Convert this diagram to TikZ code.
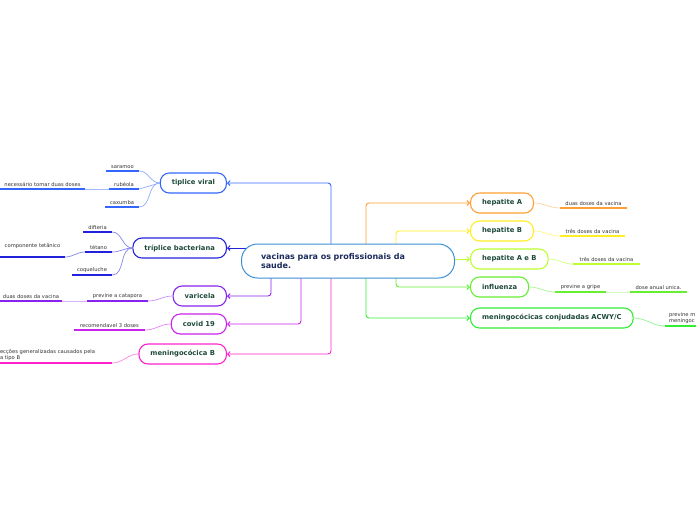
\documentclass[tikz,border=0pt]{standalone}
\usepackage{fontspec}
\setmainfont{DejaVu Sans}
\usepackage{xcolor}
\usepackage{tikz}
\usetikzlibrary{arrows.meta,backgrounds}

\definecolor{mainblue}{HTML}{3B8FD4}
\definecolor{maintext}{HTML}{1B2A5C}
\definecolor{nodetext}{HTML}{1E4A3A}
\definecolor{leaftext}{HTML}{333333}
\definecolor{cviral}{HTML}{3366FF}
\definecolor{cbact}{HTML}{2222DD}
\definecolor{cvar}{HTML}{8822EE}
\definecolor{ccovid}{HTML}{CC22EE}
\definecolor{cmenb}{HTML}{FF22CC}
\definecolor{chepa}{HTML}{FF9F33}
\definecolor{chepb}{HTML}{FFEE22}
\definecolor{chepab}{HTML}{BBFF33}
\definecolor{cflu}{HTML}{66EE33}
\definecolor{cacwy}{HTML}{33EE33}

\begin{document}
\begin{tikzpicture}[
    x=1pt, y=-1pt,
    topic/.style={rectangle, rounded corners=9pt, draw, line width=1.1pt, fill=white, text=nodetext, font=\fontsize{6.8}{8}\selectfont\bfseries, minimum height=20pt, inner xsep=11.5pt},
    leaf/.style={anchor=south, inner xsep=0pt, inner ysep=2pt, text=leaftext, font=\fontsize{5.2}{6.2}\selectfont},
    uline/.style={line width=1.6pt},
    twig/.style={line width=0.7pt},
    arrow/.style={-{Straight Barb[length=2.5pt,width=5pt]}, line width=0.9pt, rounded corners=3pt}
]
\useasboundingbox (0,0) rectangle (696,520);

% central topic
\node[rectangle, rounded corners=16pt, draw=mainblue, line width=1pt, fill=white, minimum width=213pt, minimum height=34pt, text width=174pt, align=left, font=\fontsize{8}{9.5}\selectfont\bfseries, text=maintext] (main) at (348,261) {vacinas para os profissionais da\\saude.};

% left topics
\node[topic, draw=cviral, anchor=east] (viral) at (227,183) {tiplice viral};
\node[topic, draw=cbact, anchor=east] (bact) at (227,248) {tríplice bacteriana};
\node[topic, draw=cvar, anchor=east] (var) at (227,296) {varicela};
\node[topic, draw=ccovid, anchor=east] (covid) at (227,324) {covid 19};
\node[topic, draw=cmenb, anchor=east] (menb) at (227,354) {meningocócica B};

% right topics
\node[topic, draw=chepa, anchor=west] (hepa) at (470,203) {hepatite A};
\node[topic, draw=chepb, anchor=west] (hepb) at (470,231) {hepatite B};
\node[topic, draw=chepab, anchor=west] (hepab) at (470,259) {hepatite A e B};
\node[topic, draw=cflu, anchor=west] (flu) at (470,287) {influenza};
\node[topic, draw=cacwy, anchor=west] (acwy) at (470,318) {meningocócicas conjudadas ACWY/C};

% leaves
\node[leaf, minimum width=33pt] (sar) at (122.5,171) {saramoo};
\node[leaf, minimum width=30pt] (rub) at (124,189) {rubéola};
\node[leaf, minimum width=34pt] (cax) at (122,207) {caxumba};
\node[leaf, minimum width=85pt] (nec) at (42.5,189) {necessário tomar duas doses};
\node[leaf, minimum width=29pt] (dif) at (97.5,232) {difteria};
\node[leaf, minimum width=27pt] (tet) at (98.5,252) {tétano};
\node[leaf, minimum width=40pt] (coq) at (92,275) {coqueluche};
\node[leaf, minimum width=65pt, inner ysep=8pt] (comp) at (32.5,257) {componente tetânico};
\node[leaf, minimum width=61pt] (cat) at (117.5,301) {previne a catapora};
\node[leaf, minimum width=62pt] (duas) at (31,301) {duas doses da vacina};
\node[leaf, minimum width=71pt] (rec) at (109.5,330) {recomendavel 3 doses};
\node[leaf, text width=112pt, align=left] (ecc) at (56,363) {ecções generalizadas causados pela\\a tipo B};
\node[leaf, minimum width=67pt] (da) at (593.5,208) {duas doses da vacina};
\node[leaf, minimum width=65pt] (tb) at (592.5,236) {três doses da vacina};
\node[leaf, minimum width=67pt] (tab) at (606.5,264) {três doses da vacina};
\node[leaf, minimum width=51pt] (grip) at (580.5,292) {previne a gripe};
\node[leaf, minimum width=57pt] (anual) at (658.5,292) {dose anual unica.};
\node[leaf, text width=27pt, align=left, xshift=2pt] (pm) at (680.5,326) {previne m\\meningoc};

\begin{scope}[on background layer]
\fill[white] (0,0) rectangle (696,520);
% main branches
\draw[arrow, cviral] ([xshift=-17pt]main.center) |- (viral.east);
\draw[arrow, cbact] (main.center |- bact.east) -- (bact.east);
\draw[arrow, cvar] ([xshift=-77pt]main.center) |- (var.east);
\draw[arrow, ccovid] ([xshift=-47pt]main.center) |- (covid.east);
\draw[arrow, cmenb] ([xshift=-17pt]main.center) |- (menb.east);
\draw[arrow, chepa] ([xshift=18pt]main.center) |- (hepa.west);
\draw[arrow, chepb] ([xshift=48pt]main.center) |- (hepb.west);
\draw[arrow, chepab] (main.center |- hepab.west) -- (hepab.west);
\draw[arrow, cflu] ([xshift=48pt]main.center) |- (flu.west);
\draw[arrow, cacwy] ([xshift=18pt]main.center) |- (acwy.west);
\end{scope}

% twigs to leaves
\draw[twig, cviral!55] (viral.west) to[out=180,in=0] (sar.south east);
\draw[twig, cviral!55] (viral.west) -- (rub.south east);
\draw[twig, cviral!55] (viral.west) to[out=180,in=0] (cax.south east);
\draw[twig, cviral!45] (rub.south west) -- (nec.south east);
\draw[twig, cbact!55] (bact.west) to[out=180,in=0] (dif.south east);
\draw[twig, cbact!55] (bact.west) to[out=180,in=0] (tet.south east);
\draw[twig, cbact!55] (bact.west) to[out=180,in=0] (coq.south east);
\draw[twig, cbact!55] (tet.south west) to[out=180,in=0] (comp.south east);
\draw[twig, cvar!50] (var.west) to[out=180,in=0] (cat.south east);
\draw[twig, cvar!35] (cat.south west) -- (duas.south east);
\draw[twig, ccovid!55] (covid.west) to[out=180,in=0] (rec.south east);
\draw[twig, cmenb!55] (menb.west) to[out=180,in=0] (ecc.south east);
\draw[twig, chepa!45] (hepa.east) to[out=0,in=180] (da.south west);
\draw[twig, chepb!55] (hepb.east) to[out=0,in=180] (tb.south west);
\draw[twig, chepab!60] (hepab.east) to[out=0,in=180] (tab.south west);
\draw[twig, cflu!55] (flu.east) to[out=0,in=180] (grip.south west);
\draw[twig, cflu!30] (grip.south east) -- (anual.south west);
\draw[twig, cacwy!55] (acwy.east) to[out=0,in=180] ([xshift=-4pt]pm.south west);

% underlines
\foreach \n/\c in {sar/cviral, rub/cviral, cax/cviral, nec/cviral,
    dif/cbact, tet/cbact, coq/cbact, comp/cbact,
    cat/cvar, duas/cvar, rec/ccovid, ecc/cmenb,
    da/chepa, tb/chepb, tab/chepab, grip/cflu, anual/cflu}
  \draw[uline, \c] (\n.south west) -- (\n.south east);
\draw[uline, cacwy] ([xshift=-4pt]pm.south west) -- ++(40,0);
\end{tikzpicture}
\end{document}
